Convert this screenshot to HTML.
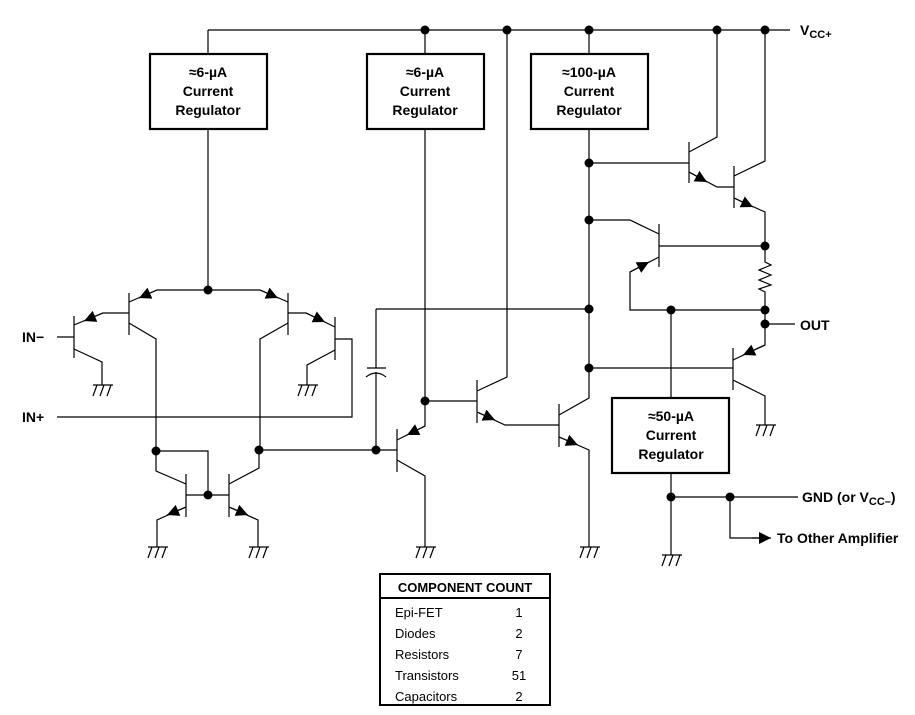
<!DOCTYPE html>
<html><head><style>
html,body{margin:0;padding:0;background:#fff;}
svg{display:block;}
text{font-family:"Liberation Sans",Arial,sans-serif;fill:#000;}
.b{font-weight:bold;font-size:14px;}
</style></head><body>
<svg width="915" height="715" viewBox="0 0 915 715" xmlns="http://www.w3.org/2000/svg">
<defs>
<marker id="a" viewBox="0 0 10 10" refX="10" refY="5" markerWidth="12" markerHeight="12" markerUnits="userSpaceOnUse" orient="auto"><path d="M0,0 L10,5 L0,10 z" fill="#000"/></marker>
<g id="gnd"><path d="M-9,0 H11 M-5,0 L-9,11 M2,0 L-2,11 M9,0 L5,11" stroke="#000" stroke-width="1.2" fill="none"/></g>
</defs>
<g stroke="#000" stroke-width="1.2" fill="none">
<path d="M208 30 H790"/>
<rect x="150" y="54" width="117" height="75" stroke-width="2.2"/>
<rect x="367" y="54" width="117" height="75" stroke-width="2.2"/>
<rect x="531" y="54" width="117" height="75" stroke-width="2.2"/>
<rect x="612" y="398" width="117" height="75" stroke-width="2.2"/>
<path d="M208 30 V54 M208 129 V290 M157 290 H260"/>
<path d="M425 30 V54 M425 129 V401 H477"/>
<path d="M507 30 V377 L477 391 M477 380 V423 M477 412 L505 425 H559"/>
<path d="M589 30 V54 M589 129 V398 L559 415 M559 404 V447 M559 437 L589 450 V547"/>
<path d="M589 163 H689 M689 142 V183 M689 152 L717 137 V30 M689 172 L717 187 H734 M734 166 V208 M734 176 L765 161 V30 M734 198 L765 212 V246"/>
<path d="M589 220 H630 L659 234 M659 224 V267 M659 246 H765 M659 257 L630 272 V310 H765"/>
<path d="M765 246 V262 L771 265 L759 270 L771 275 L759 280 L771 285 L759 289 L765 292 V345 L733 360 M765 324 H795"/>
<path d="M733 348 V390 M589 368 H733 M733 380 L765 396 V425"/>
<path d="M671 310 V398 M671 473 V555 M671 497 H798 M730 497 V538 H762"/>
<path d="M376 309 H589 M376 309 V368 M367 368 H386 M366 377 Q376 369 386 377 M376 372 V450"/>
<path d="M259 450 H397 M397 429 V472 M397 440 L425 426 V401 M397 460 L425 476 V547"/>
<path d="M57 337 H74 M74 316 V358 M74 325 L103 313 H129 M74 349 L102 362 V385"/>
<path d="M129 293 V335 M129 302 L157 290 M129 323 L156 339 V451"/>
<path d="M288 293 V335 M288 302 L260 290 M288 323 L260 339 V450"/>
<path d="M288 313 H306 L335 327 M335 317 V360 M335 339 H352 V417 H57 M335 350 L307 365 V385"/>
<path d="M156 451 H208 V495 M186 474 V517 M186 495 H229 M229 474 V517 M186 484 L156 471 V451 M186 507 L157 520 V547 M229 484 L259 468 V450 M229 507 L258 520 V547"/>
<path marker-end="url(#a)" d="M103 313 L84 321"/>
<path marker-end="url(#a)" d="M157 290 L139 298"/>
<path marker-end="url(#a)" d="M260 290 L278 298"/>
<path marker-end="url(#a)" d="M306 313 L325 322"/>
<path marker-end="url(#a)" d="M425 426 L407 435"/>
<path marker-end="url(#a)" d="M630 272 L649 262"/>
<path marker-end="url(#a)" d="M765 345 L743 355"/>
<path marker-end="url(#a)" d="M186 507 L167 515"/>
<path marker-end="url(#a)" d="M229 507 L248 515"/>
<path marker-end="url(#a)" d="M477 412 L495 420"/>
<path marker-end="url(#a)" d="M559 437 L578 445"/>
<path marker-end="url(#a)" d="M689 172 L707 182"/>
<path marker-end="url(#a)" d="M734 198 L753 207"/>
<path marker-end="url(#a)" d="M752 538 L771 538"/>
<rect x="380" y="574" width="170" height="131" stroke-width="2"/>
<path d="M380 598 H550" stroke-width="2"/>
</g>
<use href="#gnd" x="102" y="385"/><use href="#gnd" x="307" y="385"/>
<use href="#gnd" x="157" y="547"/><use href="#gnd" x="258" y="547"/>
<use href="#gnd" x="425" y="547"/><use href="#gnd" x="589" y="547"/>
<use href="#gnd" x="671" y="555"/><use href="#gnd" x="765" y="425"/>
<g fill="#000">
<circle cx="425" cy="30" r="4.5"/><circle cx="507" cy="30" r="4.5"/><circle cx="589" cy="30" r="4.5"/><circle cx="717" cy="30" r="4.5"/><circle cx="765" cy="30" r="4.5"/>
<circle cx="208" cy="290" r="4.5"/>
<circle cx="589" cy="163" r="4.5"/><circle cx="589" cy="220" r="4.5"/><circle cx="589" cy="309" r="4.5"/><circle cx="589" cy="368" r="4.5"/>
<circle cx="765" cy="246" r="4.5"/><circle cx="765" cy="310" r="4.5"/><circle cx="765" cy="324" r="4.5"/><circle cx="671" cy="310" r="4.5"/>
<circle cx="425" cy="401" r="4.5"/><circle cx="376" cy="450" r="4.5"/><circle cx="259" cy="450" r="4.5"/><circle cx="156" cy="451" r="4.5"/><circle cx="208" cy="495" r="4.5"/>
<circle cx="671" cy="497" r="4.5"/><circle cx="730" cy="497" r="4.5"/>
</g>
<g class="b" text-anchor="middle">
<text x="208" y="77">≈6-µA</text><text x="208" y="96">Current</text><text x="208" y="115">Regulator</text>
<text x="425" y="77">≈6-µA</text><text x="425" y="96">Current</text><text x="425" y="115">Regulator</text>
<text x="589" y="77">≈100-µA</text><text x="589" y="96">Current</text><text x="589" y="115">Regulator</text>
<text x="671" y="421">≈50-µA</text><text x="671" y="440">Current</text><text x="671" y="459">Regulator</text>
</g>
<g class="b">
<text x="22" y="342">IN−</text>
<text x="22" y="422">IN+</text>
<text x="800" y="330">OUT</text>
<text x="800" y="35">V<tspan font-size="11" dy="3">CC+</tspan></text>
<text x="802" y="502">GND (or V<tspan font-size="11" dy="3">CC–</tspan><tspan dy="-3">)</tspan></text>
<text x="777" y="543">To Other Amplifier</text>
<text x="465" y="592" text-anchor="middle" font-size="13">COMPONENT COUNT</text>
</g>
<g font-size="13">
<text x="395" y="617">Epi-FET</text><text x="395" y="638">Diodes</text><text x="395" y="659">Resistors</text><text x="395" y="680">Transistors</text><text x="395" y="701">Capacitors</text>
<g text-anchor="middle"><text x="519" y="617">1</text><text x="519" y="638">2</text><text x="519" y="659">7</text><text x="519" y="680">51</text><text x="519" y="701">2</text></g>
</g>
</svg>
</body></html>
